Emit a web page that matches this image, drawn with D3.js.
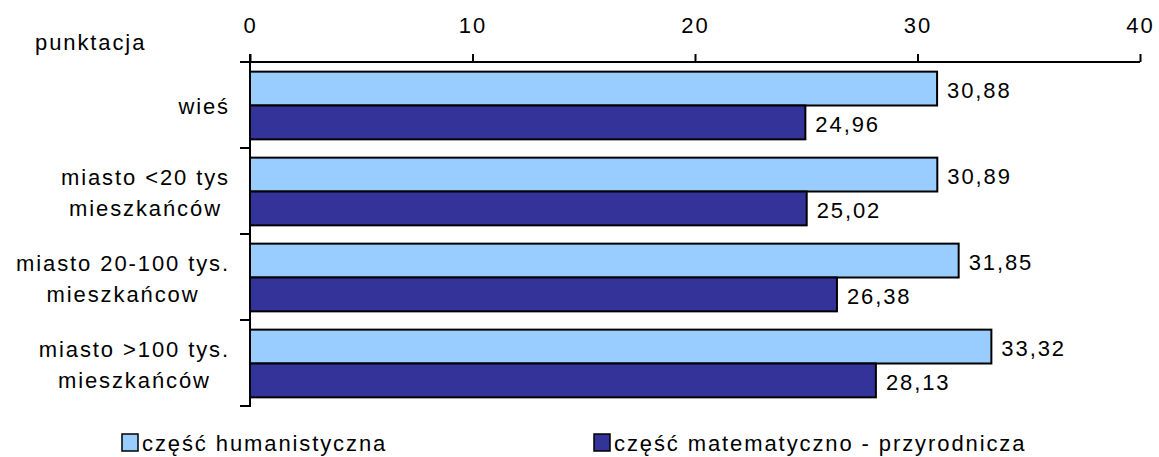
<!DOCTYPE html>
<html><head><meta charset="utf-8">
<script src="https://cdn.jsdelivr.net/npm/d3@7"></script>
<style>body{margin:0;background:#fff}svg{display:block}text{font-family:"Liberation Sans",Arial,sans-serif;fill:#000}</style>
</head><body>
<svg id="c" width="1159" height="457"></svg>
<script>
const categories = [["wieś"],["miasto <20 tys","mieszkańców"],["miasto 20-100 tys.","mieszkańcow"],["miasto >100 tys.","mieszkańców"]];
const humanistyczna = [30.88, 30.89, 31.85, 33.32];
const matematyczna = [24.96, 25.02, 26.38, 28.13];
const seriesNames = ["część humanistyczna","część matematyczno - przyrodnicza"];
const colors = ["#99CCFF","#333399"];
const ticks = [0,10,20,30,40];

const FS = 22, LS = "1.9px";
const svg = d3.select("#c");
const x = d3.scaleLinear().domain([0,40]).range([250,1140]);
const y = d3.scaleBand().domain(d3.range(categories.length)).range([62,406]).paddingInner(0).paddingOuter(0);
const inner = d3.scaleBand().domain([0,1]).range([0,y.bandwidth()]).paddingOuter(0.27).paddingInner(0);

const series = [humanistyczna, matematyczna];
series.forEach((vals,s)=>{
  svg.append("g").selectAll("rect").data(vals).enter().append("rect")
    .attr("x", x(0)).attr("y",(d,i)=>y(i)+inner(s)+0.5)
    .attr("width", d=>x(d)-x(0)).attr("height", inner.bandwidth())
    .attr("fill", colors[s]).attr("stroke","#000").attr("stroke-width",2);
  svg.append("g").selectAll("text").data(vals).enter().append("text")
    .attr("x", d=>x(d)+10).attr("y",(d,i)=>y(i)+inner(s)+0.5+inner.bandwidth()/2)
    .attr("dy","0.45em").attr("font-size",FS).attr("letter-spacing",LS)
    .text(d=>d.toFixed(2).replace(".",","));
});

// top axis
const ax = d3.axisTop(x).tickValues(ticks).tickSize(8).tickPadding(21).tickFormat(d3.format("d"));
const gx = svg.append("g").attr("transform","translate(0,62)").call(ax);
gx.select(".domain").attr("d","M240,0H1140").attr("stroke","#000").attr("stroke-width",2);
gx.selectAll(".tick line").attr("stroke","#000").attr("stroke-width",2);
gx.selectAll(".tick text").attr("font-size",FS).attr("letter-spacing",LS).attr("font-family","Liberation Sans, Arial, sans-serif").attr("fill","#000");

// left axis
svg.append("line").attr("x1",250).attr("x2",250).attr("y1",54).attr("y2",407).attr("stroke","#000").attr("stroke-width",2);
svg.append("g").selectAll("line").data(d3.range(categories.length+1)).enter().append("line")
  .attr("x1",240).attr("x2",250)
  .attr("y1",i=>i<categories.length?y(i):y(categories.length-1)+y.bandwidth())
  .attr("y2",i=>i<categories.length?y(i):y(categories.length-1)+y.bandwidth())
  .attr("stroke","#000").attr("stroke-width",2);

// category labels
categories.forEach((lines,i)=>{
  const g = svg.append("g");
  const cy = y(i)+y.bandwidth()/2;
  const lh = 31;
  const texts = lines.map((t,k)=>g.append("text").attr("font-size",FS).attr("letter-spacing",LS)
    .attr("y", cy + (k-(lines.length-1)/2)*lh).attr("dy","0.42em").text(t));
  const widths = texts.map(t=>t.node().getComputedTextLength());
  const maxW = d3.max(widths);
  const right = 230;
  texts.forEach((t,k)=>t.attr("text-anchor","middle").attr("x", right - maxW/2));
});

svg.append("text").attr("x",35).attr("y",50).attr("font-size",FS).attr("letter-spacing",LS).text("punktacja");

// legend
const legX = [122, 594];
seriesNames.forEach((n,s)=>{
  svg.append("rect").attr("x",legX[s]).attr("y",434).attr("width",16).attr("height",17)
    .attr("fill",colors[s]).attr("stroke","#000").attr("stroke-width",1.5);
  svg.append("text").attr("x",legX[s]+20).attr("y",451).attr("font-size",FS).attr("letter-spacing",LS).text(n);
});
</script>
</body></html>
